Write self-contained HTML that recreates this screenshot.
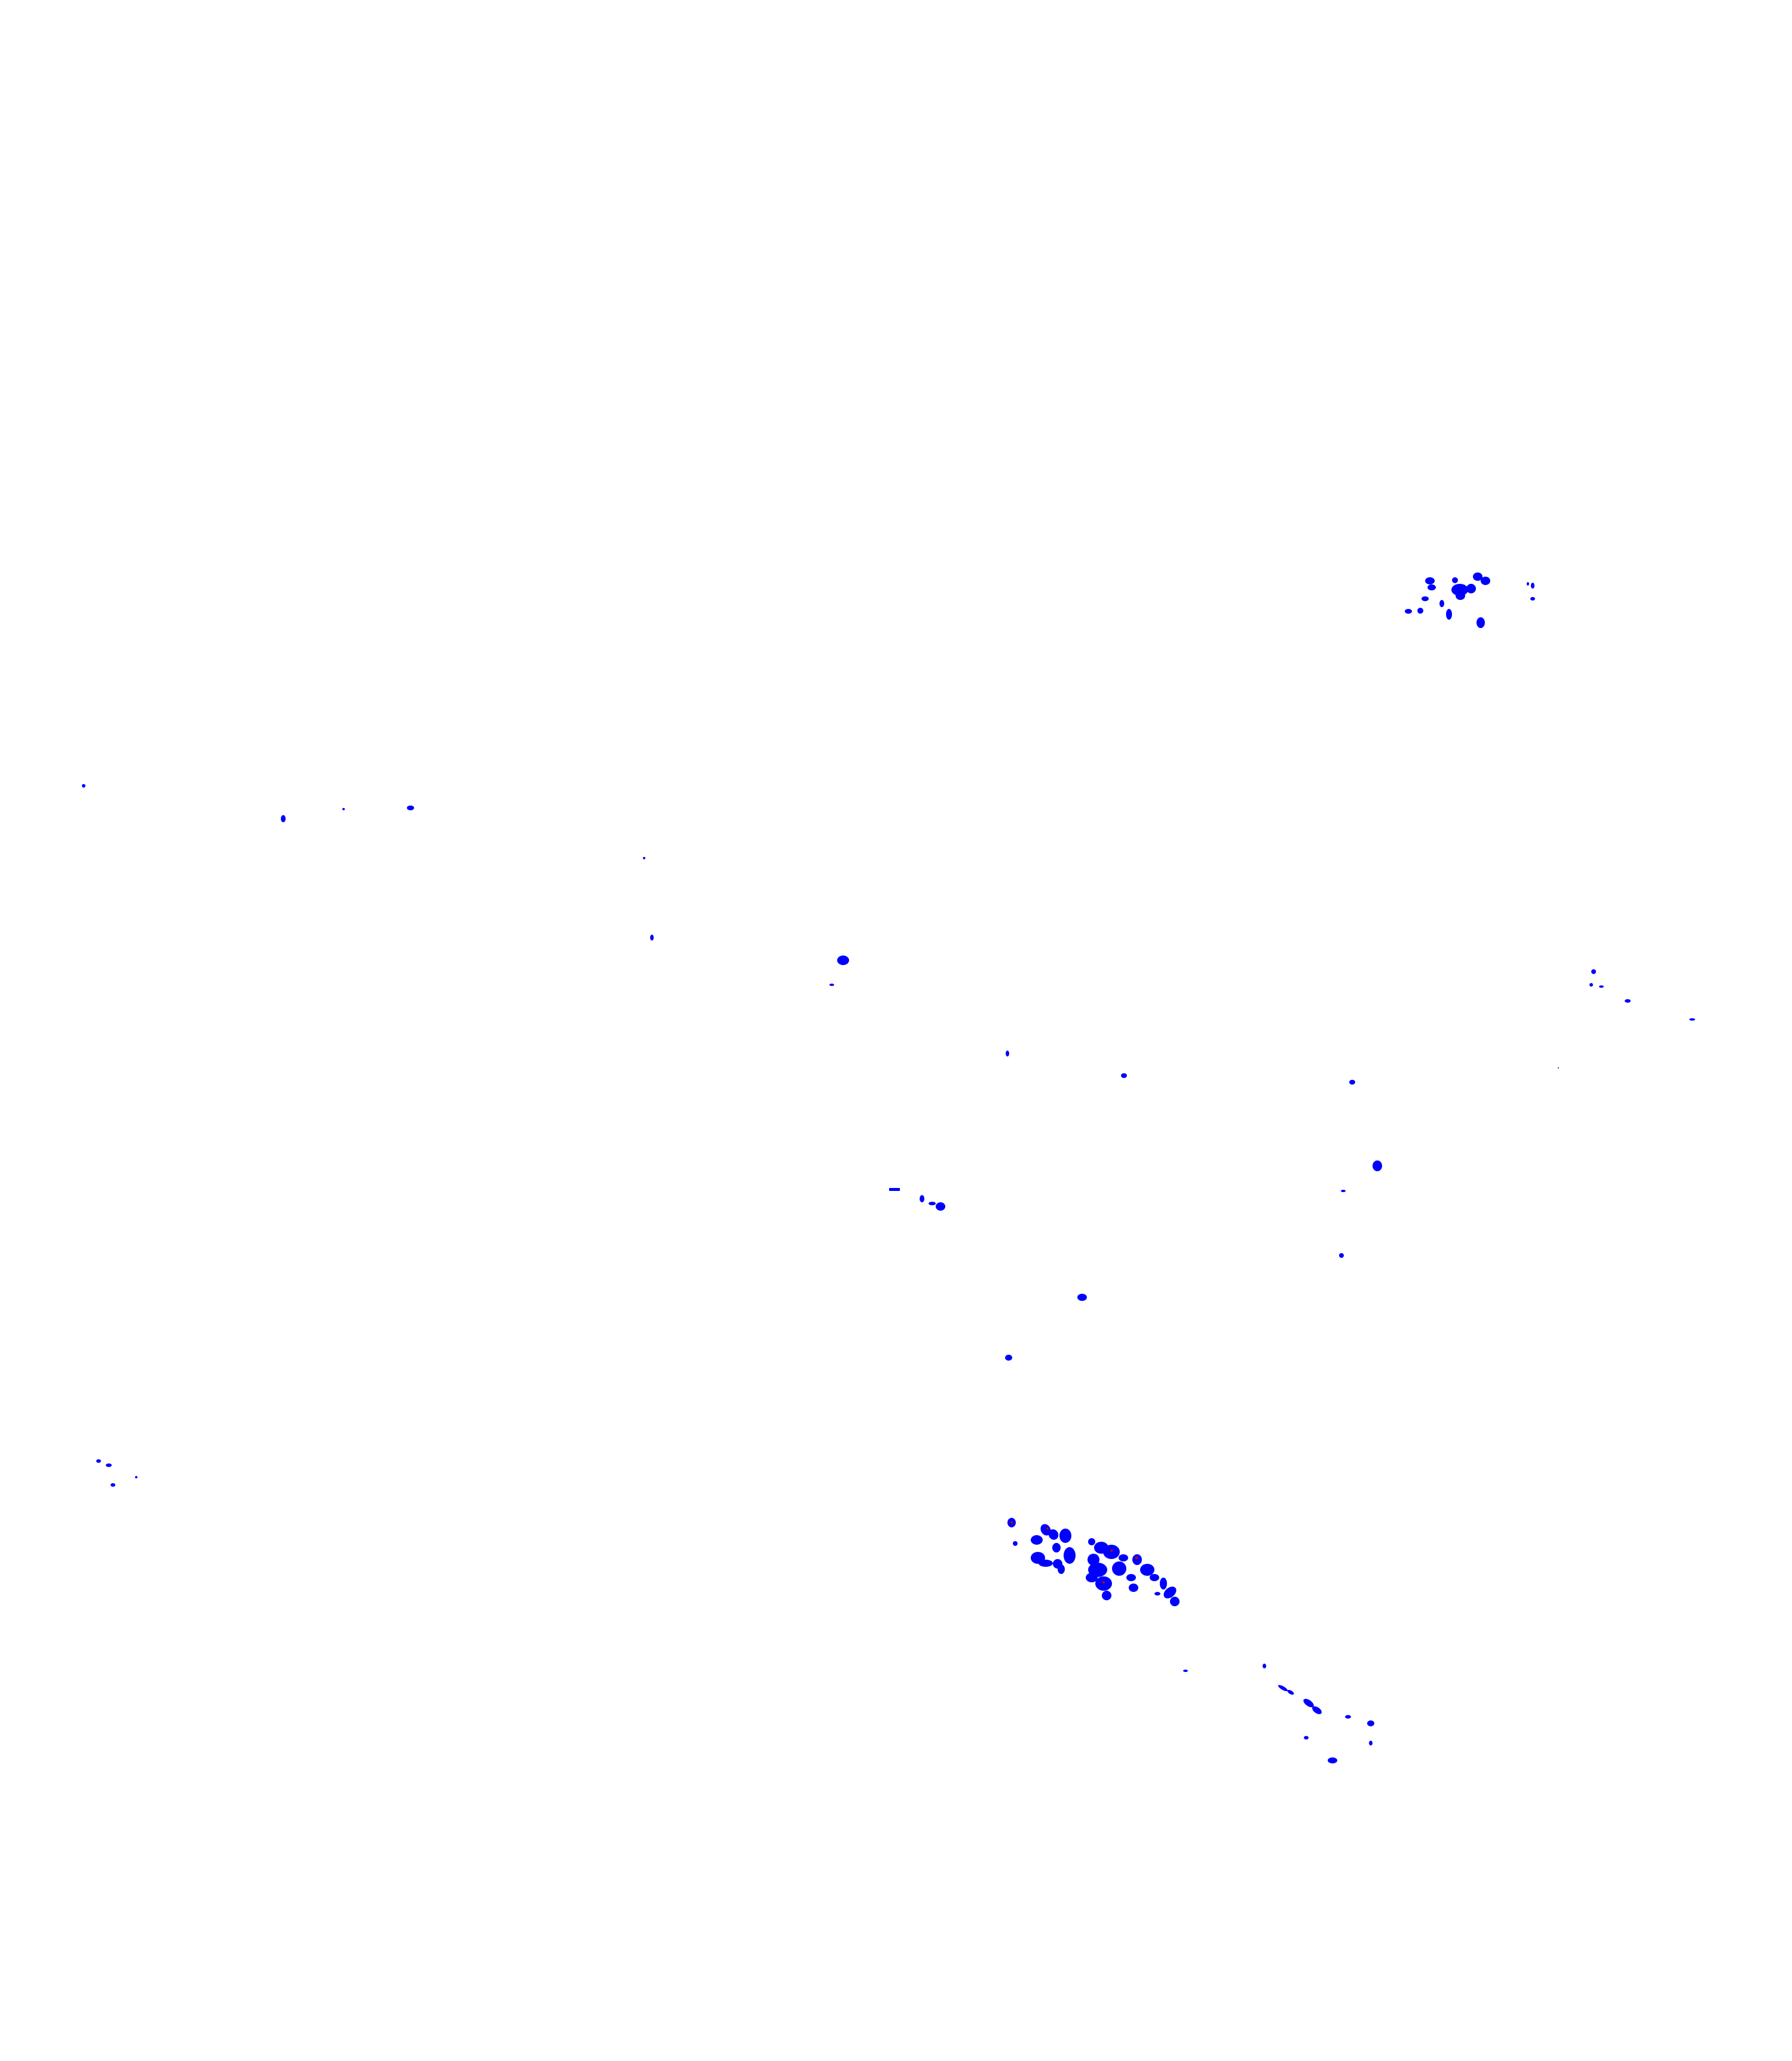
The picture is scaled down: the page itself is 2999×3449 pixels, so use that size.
<!DOCTYPE html>
<html><head><meta charset="utf-8"><style>
html,body{margin:0;padding:0;background:#fff;}
svg{display:block}
</style></head><body>
<svg width="2999" height="3449" viewBox="0 0 2999 3449" xmlns="http://www.w3.org/2000/svg">
<rect width="2999" height="3449" fill="#fff"/>
<g fill="#0000ff">
<!-- scattered -->
<circle cx="140" cy="1315" r="3"/>
<ellipse cx="474" cy="1370" rx="4" ry="6"/>
<circle cx="575" cy="1354" r="2"/>
<ellipse cx="687" cy="1352" rx="6" ry="4"/>
<circle cx="1078" cy="1436" r="2"/>
<ellipse cx="1091" cy="1569" rx="3" ry="5"/>
<ellipse cx="1411" cy="1607" rx="10" ry="8"/>
<ellipse cx="1392" cy="1648" rx="4" ry="2"/>
<ellipse cx="1686" cy="1763" rx="3" ry="5"/>
<ellipse cx="1881" cy="1800" rx="5" ry="4"/>
<ellipse cx="2263" cy="1811" rx="5" ry="4"/>
<ellipse cx="2305" cy="1951" rx="8" ry="9"/>
<ellipse cx="2248" cy="1993" rx="4" ry="2"/>
<ellipse cx="2245" cy="2101" rx="4" ry="4"/>
<rect x="1488" y="1988" width="18" height="5"/>
<ellipse cx="1543" cy="2006" rx="4" ry="6"/>
<ellipse cx="1560" cy="2014" rx="6" ry="3"/>
<ellipse cx="1574" cy="2019" rx="8" ry="7"/>
<ellipse cx="1811" cy="2171" rx="8" ry="6"/>
<ellipse cx="1688" cy="2272" rx="6" ry="5"/>
<circle cx="2667" cy="1626" r="4"/>
<circle cx="2663" cy="1648" r="3"/>
<ellipse cx="2680" cy="1651" rx="4" ry="2"/>
<ellipse cx="2724" cy="1675" rx="5" ry="3"/>
<ellipse cx="2832" cy="1706" rx="5" ry="2"/>
<circle cx="2608" cy="1787" r="1"/>
<ellipse cx="165" cy="2445" rx="4" ry="3"/>
<ellipse cx="182" cy="2452" rx="5" ry="3"/>
<ellipse cx="189" cy="2485" rx="4" ry="3"/>
<circle cx="228" cy="2472" r="2"/>
<ellipse cx="1984" cy="2796" rx="4" ry="2"/>
<ellipse cx="2116" cy="2788" rx="3" ry="4"/>
<ellipse cx="2147" cy="2825" rx="9" ry="3" transform="rotate(30 2147 2825)"/>
<ellipse cx="2160" cy="2832" rx="6" ry="3" transform="rotate(30 2160 2832)"/>
<ellipse cx="2190" cy="2850" rx="10" ry="5" transform="rotate(35 2190 2850)"/>
<ellipse cx="2204" cy="2862" rx="9" ry="5" transform="rotate(35 2204 2862)"/>
<ellipse cx="2256" cy="2873" rx="5" ry="3"/>
<ellipse cx="2294" cy="2884" rx="6" ry="5"/>
<ellipse cx="2186" cy="2908" rx="4" ry="3"/>
<ellipse cx="2294" cy="2917" rx="3" ry="4"/>
<ellipse cx="2230" cy="2946" rx="8" ry="5"/>
<!-- top-right cluster -->
<ellipse cx="2393" cy="972" rx="8" ry="6"/>
<ellipse cx="2396" cy="983" rx="7" ry="5"/>
<ellipse cx="2435" cy="971" rx="5" ry="5"/>
<ellipse cx="2443" cy="987" rx="14" ry="10"/>
<ellipse cx="2444" cy="997" rx="8" ry="7"/>
<ellipse cx="2462" cy="985" rx="8" ry="8"/>
<ellipse cx="2473" cy="965" rx="8" ry="7"/>
<ellipse cx="2486" cy="972" rx="8" ry="7"/>
<ellipse cx="2385" cy="1002" rx="6" ry="4"/>
<ellipse cx="2413" cy="1010" rx="4" ry="6"/>
<ellipse cx="2425" cy="1028" rx="5" ry="9"/>
<ellipse cx="2357" cy="1023" rx="6" ry="4"/>
<ellipse cx="2377" cy="1022" rx="5" ry="5"/>
<ellipse cx="2478" cy="1042" rx="7" ry="9"/>
<ellipse cx="2557" cy="977" rx="2" ry="3"/>
<ellipse cx="2565" cy="980" rx="3" ry="5"/>
<ellipse cx="2565" cy="1002" rx="4" ry="3"/>
<!-- main cluster -->
<g transform="translate(0,0)">
<ellipse cx="1693" cy="2548" rx="7" ry="8"/>
<circle cx="1699" cy="2583" r="4"/>
<ellipse cx="1750" cy="2560" rx="8" ry="10" transform="rotate(-30 1750 2560)"/>
<ellipse cx="1763" cy="2568" rx="8" ry="9" transform="rotate(-30 1763 2568)"/>
<ellipse cx="1735" cy="2577" rx="10" ry="8"/>
<ellipse cx="1783" cy="2570" rx="10" ry="12"/>
<ellipse cx="1768" cy="2590" rx="7" ry="8"/>
<ellipse cx="1737" cy="2607" rx="12" ry="10"/>
<ellipse cx="1750" cy="2616" rx="12" ry="6"/>
<ellipse cx="1770" cy="2617" rx="8" ry="8"/>
<ellipse cx="1790" cy="2603" rx="10" ry="14"/>
<ellipse cx="1776" cy="2626" rx="6" ry="8"/>
<ellipse cx="1827" cy="2580" rx="6" ry="6"/>
<ellipse cx="1843" cy="2590" rx="12" ry="10"/>
<ellipse cx="1860" cy="2597" rx="14" ry="12"/>
<ellipse cx="1830" cy="2610" rx="10" ry="10"/>
<ellipse cx="1837" cy="2627" rx="16" ry="12"/>
<ellipse cx="1847" cy="2650" rx="14" ry="12"/>
<ellipse cx="1827" cy="2640" rx="10" ry="8"/>
<ellipse cx="1852" cy="2670" rx="8" ry="8"/>
<ellipse cx="1873" cy="2625" rx="12" ry="12"/>
<ellipse cx="1880" cy="2607" rx="8" ry="6"/>
<ellipse cx="1893" cy="2640" rx="8" ry="6"/>
<ellipse cx="1897" cy="2657" rx="8" ry="7"/>
<ellipse cx="1903" cy="2610" rx="8" ry="9"/>
<ellipse cx="1920" cy="2627" rx="12" ry="10"/>
<ellipse cx="1932" cy="2640" rx="8" ry="6"/>
<ellipse cx="1947" cy="2650" rx="6" ry="10"/>
<ellipse cx="1937" cy="2667" rx="5" ry="3"/>
<ellipse cx="1958" cy="2665" rx="12" ry="8" transform="rotate(-40 1958 2665)"/>
<ellipse cx="1966" cy="2680" rx="8" ry="8"/>
</g>
</g>
<g fill="#cc0000">
<circle cx="1693" cy="2548" r="2"/>
<circle cx="1753" cy="2558" r="2"/>
<circle cx="1860" cy="2595" r="2"/>
<circle cx="1902" cy="2607" r="2.5"/>
<circle cx="1847" cy="2648" r="2"/>
</g>
</svg>
</body></html>
